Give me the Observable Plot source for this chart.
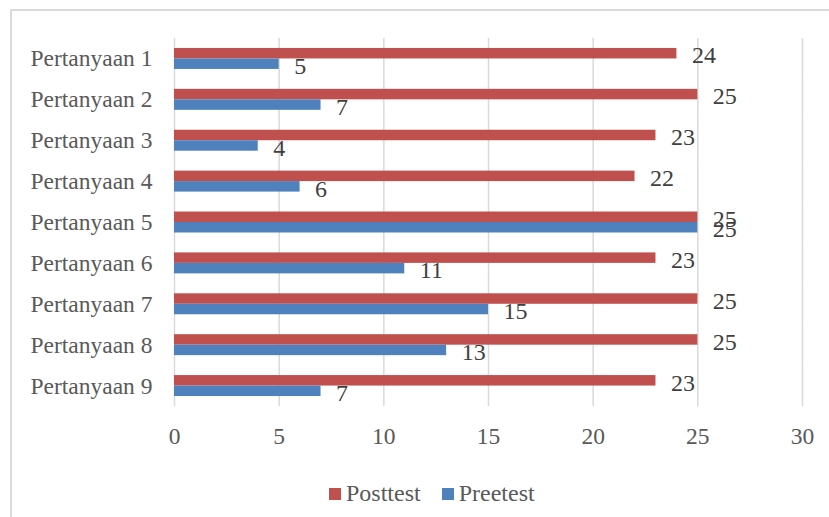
<!DOCTYPE html>
<html>
<head>
<meta charset="utf-8">
<script src="https://cdn.jsdelivr.net/npm/d3@7"></script>
<script src="https://cdn.jsdelivr.net/npm/@observablehq/plot@0.6"></script>
<style>
  html, body { margin: 0; padding: 0; background: #fff; }
  #wrap { position: relative; width: 829px; height: 517px; overflow: hidden; font-family: "Liberation Serif", "Times New Roman", serif; }
  #frame { position: absolute; left: 10px; top: 9px; width: 900px; height: 600px; border-left: 2px solid #d9d9d9; border-top: 2px solid #d9d9d9; box-sizing: border-box; }
  #chart { position: absolute; left: 0; top: 0; }
  #legend { position: absolute; left: 329px; top: 481px; font-size: 24px; line-height: 24px; color: #595959; white-space: nowrap; }
  #legend .item { display: inline-block; margin-right: 21px; }
  #legend .sw { display: inline-block; width: 12px; height: 12px; margin-right: 5px; position: relative; top: -1px; }
</style>
</head>
<body>
<div id="wrap">
  <div id="frame"></div>
  <div id="chart"></div>
  <div id="legend"></div>
</div>
<script>
const questions = ["Pertanyaan 1","Pertanyaan 2","Pertanyaan 3","Pertanyaan 4","Pertanyaan 5","Pertanyaan 6","Pertanyaan 7","Pertanyaan 8","Pertanyaan 9"];
const series = ["Posttest", "Preetest"];
const posttest = [24, 25, 23, 22, 25, 23, 25, 25, 23];
const preetest = [5, 7, 4, 6, 25, 11, 15, 13, 7];
const xTicks = [0, 5, 10, 15, 20, 25, 30];
const colors = ["#C0504D", "#4F81BD"];

const rows = [];
questions.forEach((q, i) => {
  rows.push({q, s: series[0], v: posttest[i]});
  rows.push({q, s: series[1], v: preetest[i]});
});

const chart = Plot.plot({
  width: 829,
  height: 460,
  marginLeft: 174,
  marginRight: 27,
  marginTop: 38,
  marginBottom: 54,
  style: {fontFamily: '"Liberation Serif", "Times New Roman", serif', fontSize: "23.5px", color: "#595959", background: "transparent", overflow: "visible"},
  x: {domain: [0, 30], ticks: xTicks, tickSize: 0, tickPadding: 21, label: null, tickFormat: d => String(d)},
  fy: {domain: questions, padding: 0, round: false, label: null, tickSize: 0, tickPadding: 22, axis: "left"},
  y: {domain: series, paddingInner: 0, paddingOuter: 0.95, round: false, axis: null},
  color: {domain: series, range: colors},
  marks: [
    Plot.ruleX(xTicks, {stroke: "#d9d9d9", strokeWidth: 1.5}),
    Plot.barX(rows, {fy: "q", y: "s", x: "v", fill: "s"}),
    Plot.text(rows, {fy: "q", y: "s", x: "v", text: d => String(d.v), dx: 15, dy: 2, textAnchor: "start", fill: "#404040", fontSize: 24})
  ]
});
document.getElementById("chart").appendChild(chart);

const legend = document.getElementById("legend");
series.forEach((s, i) => {
  const item = document.createElement("span");
  item.className = "item";
  const sw = document.createElement("span");
  sw.className = "sw";
  sw.style.background = colors[i];
  item.appendChild(sw);
  item.appendChild(document.createTextNode(s));
  legend.appendChild(item);
});
</script>
</body>
</html>
